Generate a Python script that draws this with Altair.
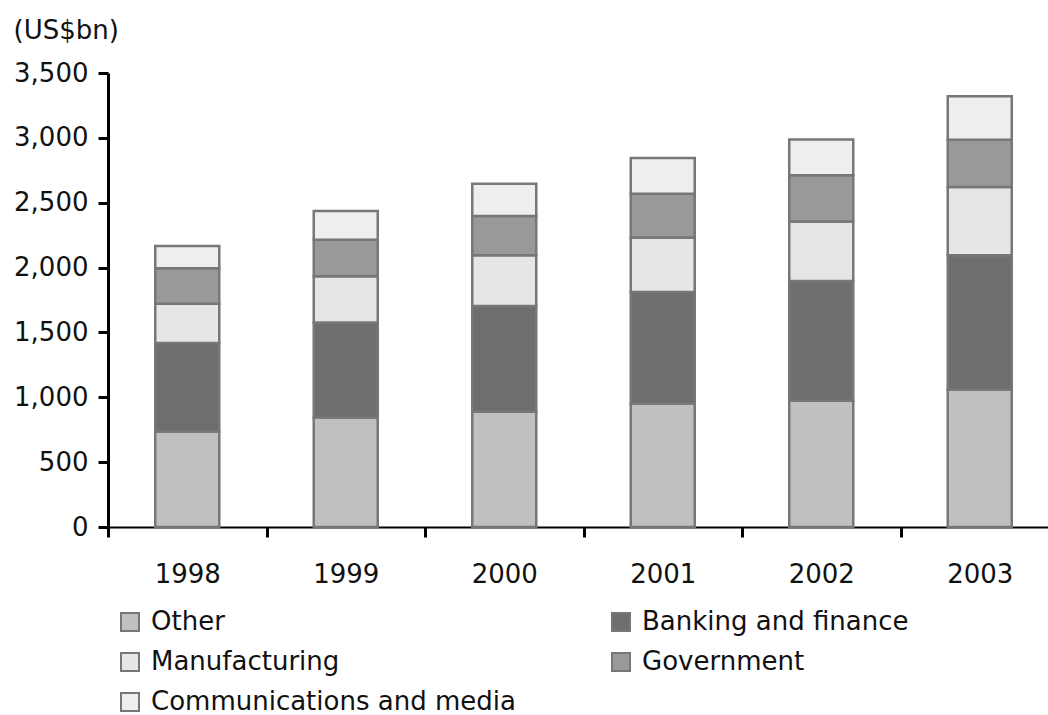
import altair as alt
import pandas as pd

years = ["1998", "1999", "2000", "2001", "2002", "2003"]
categories = ["Other", "Banking and finance", "Manufacturing", "Government", "Communications and media"]
other = [737, 845, 888, 953, 973, 1060]
banking = [682, 731, 816, 859, 924, 1035]
manufacturing = [303, 357, 391, 419, 459, 526]
government = [272, 282, 302, 339, 355, 364]
communications = [172, 221, 250, 274, 277, 336]
colors = ["#c0c0c0", "#6e6e6e", "#e6e6e6", "#999999", "#eeeeee"]
y_ticks = [0, 500, 1000, 1500, 2000, 2500, 3000, 3500]

series = [other, banking, manufacturing, government, communications]
rows = []
for k, (name, vals) in enumerate(zip(categories, series)):
    for yr, v in zip(years, vals):
        rows.append({"year": yr, "sector": name, "value": v, "order": k})
df = pd.DataFrame(rows)

# legend fills column by column: reorder so it reads row by row like the reference
legend_idx = [0, 2, 4, 1, 3]
legend_domain = [categories[i] for i in legend_idx]
legend_range = [colors[i] for i in legend_idx]

FONT = "DejaVu Sans"
FS = 26

chart = alt.Chart(df).mark_bar(size=64, stroke="#777777", strokeWidth=2.5).encode(
    x=alt.X(
        "year:N",
        sort=years,
        scale=alt.Scale(range=[0, 951], paddingInner=0, paddingOuter=0),
        axis=alt.Axis(
            title=None,
            tickBand="extent",
            labelAngle=0,
            labelFont=FONT,
            labelFontSize=FS,
            labelColor="#111111",
            labelPadding=24,
            domainColor="#000000",
            domainWidth=2,
            tickColor="#000000",
            tickWidth=3,
            tickSize=10,
            grid=False,
        ),
    ),
    y=alt.Y(
        "value:Q",
        stack="zero",
        scale=alt.Scale(domain=[0, 3500], nice=False),
        axis=alt.Axis(
            title="(US$bn)",
            titleAngle=0,
            titleAlign="left",
            titleBaseline="alphabetic",
            titleX=-95,
            titleY=-35,
            titleFont=FONT,
            titleFontSize=FS,
            titleFontWeight="normal",
            titleColor="#111111",
            values=y_ticks,
            format=",d",
            labelFont=FONT,
            labelFontSize=FS,
            labelColor="#111111",
            labelPadding=10,
            domainColor="#000000",
            domainWidth=3,
            tickColor="#000000",
            tickWidth=3,
            tickSize=10,
            grid=False,
        ),
    ),
    color=alt.Color(
        "sector:N",
        scale=alt.Scale(domain=legend_domain, range=legend_range),
        legend=alt.Legend(
            title=None,
            orient="none",
            legendX=9,
            legendY=536,
            columns=2,
            columnPadding=92,
            rowPadding=14,
            symbolType="square",
            symbolSize=324,
            symbolStrokeColor="#777777",
            symbolStrokeWidth=2,
            symbolOpacity=1,
            labelFont=FONT,
            labelFontSize=FS,
            labelColor="#111111",
            labelOffset=8,
            labelLimit=600,
            padding=0,
        ),
    ),
    order=alt.Order("order:Q"),
).properties(
    width=940,
    height=454,
    background="#ffffff",
    autosize=alt.AutoSizeParams(type="none"),
    padding={"left": 108, "top": 73, "right": 0, "bottom": 188},
).configure_view(stroke=None)

chart.save("out.html", embed_options={"renderer": "svg", "actions": False})
